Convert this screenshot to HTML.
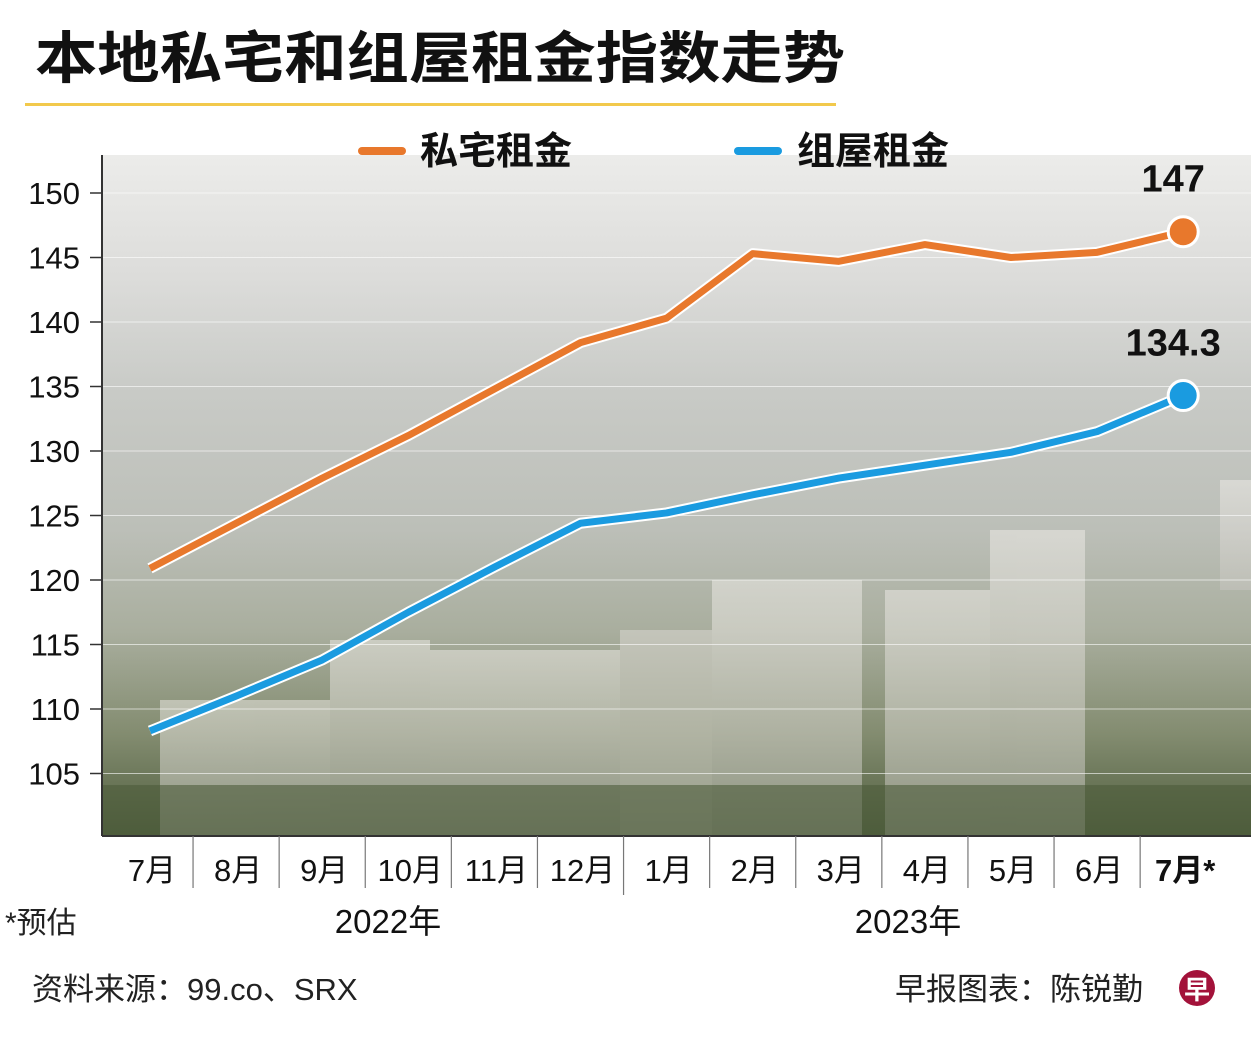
<!DOCTYPE html>
<html><head><meta charset="utf-8">
<style>
body{margin:0;width:1251px;height:1040px;background:#fff;overflow:hidden;font-family:"Liberation Sans","Noto Sans CJK SC",sans-serif;}
svg{display:block}
</style></head>
<body>
<svg id="chart" width="1251" height="1040" xmlns="http://www.w3.org/2000/svg">
<defs>
<linearGradient id="bg" x1="0" y1="0" x2="0" y2="1">
<stop offset="0" stop-color="#ececea"/>
<stop offset="0.18" stop-color="#dcdcda"/>
<stop offset="0.35" stop-color="#c8cac6"/>
<stop offset="0.55" stop-color="#bcbfb8"/>
<stop offset="0.7" stop-color="#a9ae9e"/>
<stop offset="0.85" stop-color="#838c70"/>
<stop offset="1" stop-color="#4f5e3e"/>
</linearGradient>
<linearGradient id="bld" x1="0" y1="0" x2="0" y2="1">
<stop offset="0" stop-color="#f1eeea"/>
<stop offset="1" stop-color="#c9c7c2"/>
</linearGradient>
</defs>
<text x="35" y="78" font-size="56" font-weight="bold" fill="#111" textLength="810" lengthAdjust="spacingAndGlyphs">本地私宅和组屋租金指数走势</text>
<rect x="25" y="103" width="811" height="3" fill="#f2c94c"/>
<rect x="102" y="155" width="1149" height="681" fill="url(#bg)"/>
<g opacity="0.5">
<rect x="160" y="700" width="170" height="136" fill="url(#bld)"/>
<rect x="330" y="640" width="100" height="196" fill="url(#bld)"/>
<rect x="430" y="650" width="190" height="186" fill="url(#bld)"/>
<rect x="620" y="630" width="100" height="206" fill="#dedbd6"/>
<rect x="712" y="580" width="150" height="256" fill="url(#bld)"/>
<rect x="885" y="590" width="120" height="246" fill="url(#bld)"/>
<rect x="990" y="530" width="95" height="306" fill="url(#bld)"/>
<rect x="1220" y="480" width="31" height="110" fill="url(#bld)"/>
</g>
<rect x="102" y="785" width="1149" height="51" fill="#4c5c3a" opacity="0.6"/>
<g id="axes"></g>
<g id="series"></g>
<g>
<line x1="362" y1="151" x2="402" y2="151" stroke="#e8782c" stroke-width="8" stroke-linecap="round"/>
<text x="420" y="164" font-size="38" font-weight="bold" fill="#111">私宅租金</text>
<line x1="738" y1="151" x2="778" y2="151" stroke="#1a9be0" stroke-width="8" stroke-linecap="round"/>
<text x="797" y="164" font-size="38" font-weight="bold" fill="#111">组屋租金</text>
</g>
<text x="5" y="933" font-size="30" fill="#222">*预估</text>
<text x="388" y="933" font-size="33" fill="#111" text-anchor="middle">2022年</text>
<text x="908" y="933" font-size="33" fill="#111" text-anchor="middle">2023年</text>
<text x="32" y="1000" font-size="31" fill="#222">资料来源：99.co、SRX</text>
<text x="895" y="1000" font-size="31" fill="#222">早报图表：陈锐勤</text>
<circle cx="1197" cy="988" r="18" fill="#a3123a"/>
<text x="1197" y="999" font-size="26" font-weight="bold" fill="#fff" text-anchor="middle">早</text>
</svg>
<script>
const months = ["7月","8月","9月","10月","11月","12月","1月","2月","3月","4月","5月","6月","7月*"];
const privateRent = [120.9,124.4,127.9,131.2,134.8,138.4,140.3,145.3,144.7,146.0,145.0,145.4,147];
const hdbRent = [108.3,111.0,113.8,117.5,121.0,124.4,125.2,126.6,127.9,128.9,129.9,131.5,134.3];
const yTicks = [105,110,115,120,125,130,135,140,145,150];
const lastLabels = ["147","134.3"];

const NS="http://www.w3.org/2000/svg";
const xStart=150, xStep=86.1;
function xPos(i){return xStart+i*xStep;}
function yPos(v){return 193+(150-v)*12.9;}
function mk(tag,attrs,parent){const e=document.createElementNS(NS,tag);for(const k in attrs)e.setAttribute(k,attrs[k]);parent.appendChild(e);return e;}

const axes=document.getElementById('axes');
const series=document.getElementById('series');
yTicks.forEach(v=>{
  const y=yPos(v);
  const g=mk('line',{x1:102,x2:1251,y1:y,y2:y,stroke:'#ffffff','stroke-width':1,opacity:0.6},axes);
  
  
  const t=mk('line',{x1:90,x2:102,y1:y,y2:y,stroke:'#333','stroke-width':1.5},axes);
  
  
  const l=mk('text',{x:80,y:y+11,'font-size':31,fill:'#111','text-anchor':'end'},axes);
  l.textContent=v;
  
  
});
const ax=mk('line',{x1:102,x2:102,y1:155,y2:836,stroke:'#333','stroke-width':2},axes);


const bx=mk('line',{x1:102,x2:1251,y1:836,y2:836,stroke:'#333','stroke-width':2},axes);


months.forEach((m,i)=>{
  const t=mk('text',{x:xPos(i)+2,y:881,'font-size':31,fill:'#111','text-anchor':'middle'},axes);
  if(i===months.length-1)t.setAttribute('font-weight','bold');
  t.textContent=m;
  
  
  if(i>0){
    const sx=(xPos(i)+xPos(i-1))/2;
    const s=mk('line',{x1:sx,x2:sx,y1:836,y2:i===6?895:888,stroke:'#777','stroke-width':1.2},axes);
    
    
  }
});
function drawLine(data,color,name,label){
  const pts=data.map((v,i)=>xPos(i)+','+yPos(v)).join(' ');
  const h=mk('polyline',{points:pts,fill:'none',stroke:'#fff','stroke-width':11,'stroke-linejoin':'round'},series);
  
  
  const p=mk('polyline',{points:pts,fill:'none',stroke:color,'stroke-width':7,'stroke-linejoin':'round'},series);
  
  
  const n=data.length-1;
  const c=mk('circle',{cx:xPos(n),cy:yPos(data[n]),r:15,fill:color,stroke:'#fff','stroke-width':3},series);
  
  
  const t=mk('text',{x:xPos(n)-10,y:yPos(data[n])-40,'font-size':38,'font-weight':'bold',fill:'#111','text-anchor':'middle'},series);
  t.textContent=label;
  
  
}
drawLine(privateRent,'#e8782c','private-rent',lastLabels[0]);
drawLine(hdbRent,'#1a9be0','hdb-rent',lastLabels[1]);
</script>
</body></html>
